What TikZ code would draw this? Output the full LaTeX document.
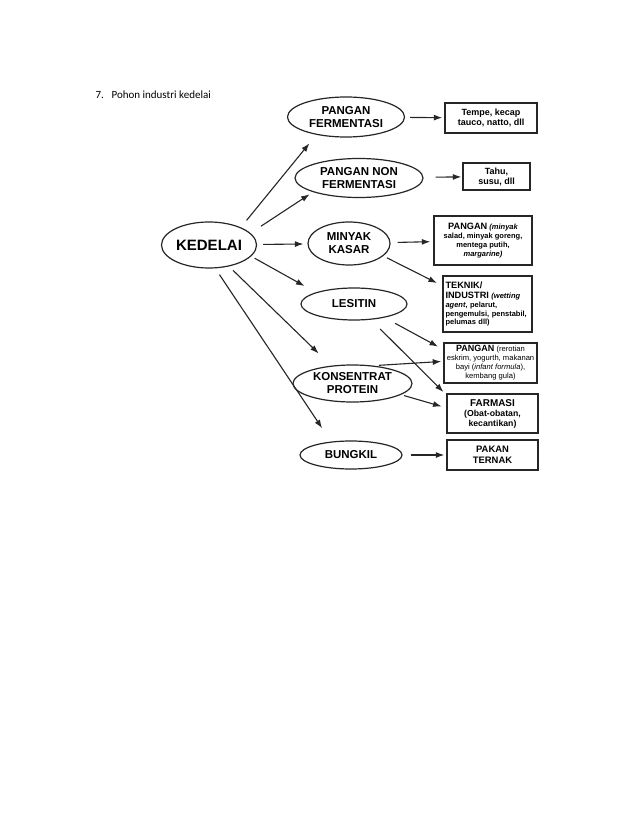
\documentclass[tikz,border=0pt]{standalone}
\usepackage{fontspec}
\setmainfont{Liberation Sans}
\newfontfamily\titlefont{Carlito}
\usetikzlibrary{arrows.meta,shapes.geometric}

\begin{document}
\begin{tikzpicture}[
    x=1pt, y=-1pt,
    oval/.style={ellipse, draw=black!85, line width=1.2pt, inner sep=0pt, align=center, font=\bfseries\fontsize{11.5}{13}\selectfont},
    item/.style={draw=black!85, line width=1.4pt, inner sep=2pt, align=center, font=\bfseries\fontsize{9}{10}\selectfont},
    arrow/.style={-{Latex[length=8.5pt,width=6pt]}, line width=1.1pt, draw=black!85}
]
\path[fill=white, use as bounding box] (0,0) rectangle (638,826);

% Title
\node[anchor=base west, font=\titlefont\fontsize{11}{13}\selectfont] (nomor) at (92,99) {7.};
\node[anchor=base west, font=\titlefont\fontsize{11}{13}\selectfont] (judul) at (108,99) {Pohon industri kedelai};

% The tree
\node[oval, minimum width=95pt, minimum height=46pt, font=\bfseries\fontsize{15}{17}\selectfont] (kedelai) at (209,245) {KEDELAI};

\node[oval, minimum width=117pt, minimum height=40pt] (fermentasi) at (346,117) {PANGAN\\FERMENTASI};
\node[oval, minimum width=128pt, minimum height=39pt] (nonferm) at (359,178) {PANGAN NON\\FERMENTASI};
\node[oval, minimum width=82pt, minimum height=43pt] (minyak) at (349,243.5) {MINYAK\\KASAR};
\node[oval, minimum width=106pt, minimum height=32pt] (lesitin) at (354,304) {LESITIN};
\node[oval, minimum width=119pt, minimum height=37pt] (protein) at (352.5,383.5) {KONSENTRAT\\PROTEIN};
\node[oval, minimum width=102pt, minimum height=28pt] (bungkil) at (351,455) {BUNGKIL};

% Products
\node[item, minimum width=92pt, minimum height=30pt] (tempe) at (491,118) {Tempe, kecap\\tauco, natto, dll};
\node[item, minimum width=67pt, minimum height=27pt] (tahu) at (496.5,176.5) {Tahu,\\susu, dll};
\node[item, minimum width=98pt, minimum height=49pt, font=\bfseries\fontsize{7.5}{9}\selectfont] (pminyak) at (483,240.5)
    {{\fontsize{9.2}{10}\selectfont PANGAN} {\itshape (minyak}\\salad, minyak goreng,\\mentega putih,\\{\itshape margarine)}};
\node[item, align=left, text width=84pt, inner xsep=2.5pt, minimum height=56pt, font=\bfseries\fontsize{7.5}{8.8}\selectfont] (teknik) at (487.5,304)
    {{\fontsize{9.2}{10.5}\selectfont TEKNIK/}\\[1.5pt]{\fontsize{9.2}{10.5}\selectfont INDUSTRI} {\itshape (wetting}\\{\itshape agent}, pelarut,\\pengemulsi, penstabil,\\pelumas dll)};
\node[item, minimum width=93pt, minimum height=40pt, font=\fontsize{7.6}{9}\selectfont] (prerotian) at (490.5,363)
    {{\bfseries\fontsize{9}{9}\selectfont PANGAN} (rerotian\\eskrim, yogurth, makanan\\bayi ({\itshape infant formula}),\\kembang gula)};
\node[item, minimum width=91pt, minimum height=39pt, font=\bfseries\fontsize{8.7}{10}\selectfont] (farmasi) at (492.5,413.5)
    {{\fontsize{9.9}{11}\selectfont FARMASI}\\(Obat-obatan,\\kecantikan)};
\node[item, minimum width=91pt, minimum height=30pt, font=\bfseries\fontsize{9.4}{11}\selectfont] (pakan) at (492.5,455) {PAKAN\\TERNAK};

% From kedelai
\draw[arrow, shorten <=9pt, shorten >=11pt] (kedelai.29) -- (fermentasi.211);
\draw[arrow, shorten <=12.5pt, shorten >=4pt] (kedelai.16) -- (nonferm.197);
\draw[arrow, shorten <=6pt, shorten >=4pt] (kedelai) -- (minyak);
\draw[arrow, shorten <=4pt, shorten >=13pt] (kedelai.-15) -- (lesitin.163);
\draw[arrow, shorten <=5.5pt, shorten >=17.5pt] (kedelai.-47) -- (protein.140);
\draw[arrow, shorten <=7.5pt, shorten >=16pt] (kedelai.-75) -- (bungkil.146);

% To the products
\draw[arrow, shorten <=5pt, shorten >=2pt] (fermentasi) -- (tempe);
\draw[arrow, shorten <=12pt, shorten >=1pt] (nonferm) -- (tahu);
\draw[arrow, shorten <=7pt, shorten >=3pt] (minyak) -- (pminyak);
\draw[arrow, shorten <=4pt, shorten >=6pt] (minyak.-20) -- (teknik.158);
\draw[arrow, shorten <=12pt, shorten >=6pt] (lesitin.-24) -- (prerotian.164);
\draw[arrow, shorten <=13pt, shorten >=4pt] (lesitin.-43) -- (farmasi.158);
\draw[arrow, shorten <=5pt, shorten >=2pt] (protein.40) -- (prerotian.178);
\draw[arrow, shorten <=3pt, shorten >=5pt] (protein.-13) -- (farmasi.173);
\draw[arrow, shorten <=8pt, shorten >=2pt] (bungkil) -- (pakan);

\end{tikzpicture}
\end{document}
